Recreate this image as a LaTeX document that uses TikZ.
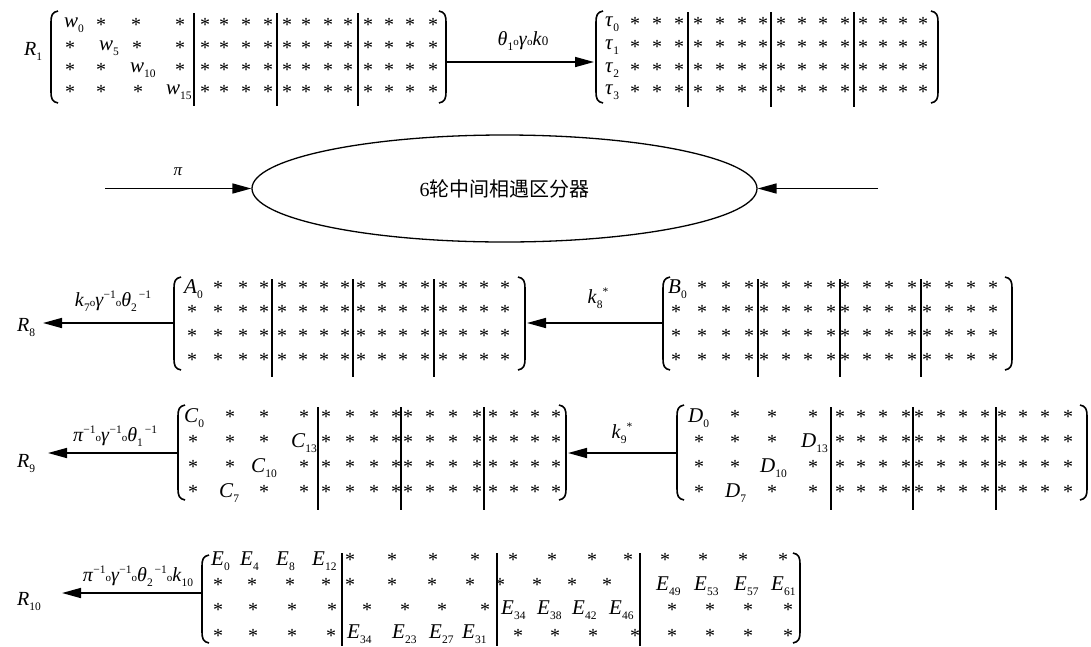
\documentclass[tikz,border=0pt]{standalone}
\usepackage{fontspec}
\setmainfont{Liberation Serif}
\newfontfamily\cjk{Noto Sans CJK SC}
\usetikzlibrary{arrows.meta,shapes.geometric}
\newcommand\sbs[1]{\raisebox{-0.55ex}{\upshape\fontsize{11.5}{11.5}\selectfont #1}}
\newcommand\sps[1]{\raisebox{0.85ex}{\upshape\fontsize{11.5}{11.5}\selectfont #1}}
\newcommand\cmp{{\upshape\fontsize{11}{11}\selectfont o}}
\newcommand\strow[3]{\foreach \xx [count=\ii] in {#3} {\node[st] (#1-\ii) at (\xx,#2) {*};}}
\newcommand\erow[4]{\foreach \xx/\ss [count=\ii] in {#4} {\node[ent] (#1-\ii) at (\xx,#2) {\textit{#3}\sbs{\ss}};}}
\newcommand\lbrk[3]{\draw[brk] (#1+7,#2) .. controls (#1+1,#2+1) and (#1,#2+5) .. (#1,#2+11) -- (#1,#3-11) .. controls (#1,#3-5) and (#1+1,#3-1) .. (#1+7,#3);}
\newcommand\rbrk[3]{\draw[brk] (#1-7,#2) .. controls (#1-1,#2+1) and (#1,#2+5) .. (#1,#2+11) -- (#1,#3-11) .. controls (#1,#3-5) and (#1-1,#3-1) .. (#1-7,#3);}
\newcommand\sepl[3]{\draw[sep] (#1,#2) -- (#1,#3);}
\begin{document}
\begin{tikzpicture}[x=1pt,y=-1pt,
  st/.style={font=\fontsize{20}{20}\selectfont, inner sep=0pt, anchor=base, yshift=-9.8pt},
  ent/.style={font=\fontsize{21}{21}\selectfont, inner sep=0pt, anchor=base west},
  rlab/.style={font=\fontsize{20}{20}\selectfont, inner sep=0pt, anchor=base west},
  lab/.style={font=\fontsize{20}{20}\selectfont, inner sep=0pt},
  brk/.style={line width=1.6pt},
  sep/.style={line width=1.8pt},
  arr/.style={line width=1.6pt, -{Triangle[length=19pt,width=10pt]}},
]
\fill[white] (0,0) rectangle (1091,646);
\useasboundingbox (0,0) rectangle (1091,646);

% ---------- R1 row ----------
\node[rlab] (R1) at (24,55) {\textit{R}\sbs{1}};
\lbrk{51}{11}{103}
\rbrk{446}{11}{103}
\node[ent] (w0) at (64,27) {\textit{w}\sbs{0}};
\node[ent] (w5) at (99,50) {\textit{w}\sbs{5}};
\node[ent] (w10) at (130,72) {\textit{w}\sbs{10}};
\node[ent] (w15) at (166,94) {\textit{w}\sbs{15}};
\strow{ra1}{22}{101,136,180,205,224,246,268,287,306,328,348,368,389,410,433}
\strow{ra2}{45}{70,137,180,205,224,246,268,287,306,328,348,368,389,410,433}
\strow{ra3}{67}{70,101,180,205,224,246,268,287,306,328,348,368,389,410,433}
\strow{ra4}{89}{70,101,138,205,224,246,268,287,306,328,348,368,389,410,433}
\sepl{194}{13}{106}\sepl{277}{13}{106}\sepl{358}{13}{106}

\coordinate (m1e) at (447,62);
\coordinate (m2w) at (594,62);
\draw[arr] (m1e) -- (m2w);
\node[lab] (L1) at (523,41) {\textit{θ}\sbs{1}\cmp\textit{γ}\cmp\textit{k}{\fontsize{13}{13}\selectfont 0}};

\lbrk{596}{11}{103}
\rbrk{938}{11}{103}
\node[ent] (t0) at (605,26) {\textit{τ}\sbs{0}};
\node[ent] (t1) at (605,49) {\textit{τ}\sbs{1}};
\node[ent] (t2) at (605,72) {\textit{τ}\sbs{2}};
\node[ent] (t3) at (605,94) {\textit{τ}\sbs{3}};
\strow{tb1}{21}{635,657,679,698,720,742,763,781,802,823,845,863,883,903,923}
\strow{tb2}{44}{635,657,679,698,720,742,763,781,802,823,845,863,883,903,923}
\strow{tb3}{67}{635,657,679,698,720,742,763,781,802,823,845,863,883,903,923}
\strow{tb4}{89}{635,657,679,698,720,742,763,781,802,823,845,863,883,903,923}
\sepl{688}{12}{107}\sepl{771}{12}{107}\sepl{854}{12}{107}

% ---------- distinguisher ----------
\node[draw, ellipse, line width=1.3pt, minimum width=505pt, minimum height=107pt, inner sep=0pt] (dist) at (504.5,188.5) {\fontsize{20}{20}\selectfont 6{\cjk 轮中间相遇区分器}};
\coordinate (pin) at (105,188.5);
\coordinate (qin) at (878,188.5);
\draw[arr] (pin) -- (dist.west);
\draw[arr] (qin) -- (dist.east);
\node[lab, font=\fontsize{17}{17}\selectfont] (Lpi) at (178,172) {\textit{π}};

% ---------- R8 row ----------
\node[rlab] (R8) at (17,331) {\textit{R}\sbs{8}};
\lbrk{174}{277}{370}
\rbrk{525}{277}{370}
\node[ent] (A0) at (184,293) {\textit{A}\sbs{0}};
\strow{aa1}{285}{218,243,264,282,303,324,345,361,382,403,425,443,463,484,505}
\strow{aa2}{309}{192,218,243,264,282,303,324,345,361,382,403,425,443,463,484,505}
\strow{aa3}{333}{192,218,243,264,282,303,324,345,361,382,403,425,443,463,484,505}
\strow{aa4}{357}{192,218,243,264,282,303,324,345,361,382,403,425,443,463,484,505}
\sepl{272}{279}{377}\sepl{353}{279}{377}\sepl{434}{279}{377}
\coordinate (aw) at (174,323);
\coordinate (t8) at (43,323);
\draw[arr] (aw) -- (t8);
\node[lab] (L8) at (113,301) {\textit{k}\sbs{7}\cmp\textit{γ}\sps{−1}\cmp\textit{θ}\sbs{2}\sps{\,−1}};

\lbrk{663}{277}{370}
\rbrk{1012}{277}{370}
\node[ent] (B0) at (668,293) {\textit{B}\sbs{0}};
\strow{bb1}{285}{702,726,749,764,786,808,831,845,867,889,912,927,949,971,993}
\strow{bb2}{309}{676,702,726,749,764,786,808,831,845,867,889,912,927,949,971,993}
\strow{bb3}{333}{676,702,726,749,764,786,808,831,845,867,889,912,927,949,971,993}
\strow{bb4}{357}{676,702,726,749,764,786,808,831,845,867,889,912,927,949,971,993}
\sepl{758}{279}{377}\sepl{840}{279}{377}\sepl{921}{279}{377}
\coordinate (bw) at (663,323);
\coordinate (ae) at (527,323);
\draw[arr] (bw) -- (ae);
\node[lab] (K8) at (598,298) {\textit{k}\sbs{8}\sps{*}};

% ---------- R9 row ----------
\node[rlab] (R9) at (17,467) {\textit{R}\sbs{9}};
\lbrk{178}{405}{500}
\rbrk{566}{405}{500}
\node[ent] (C0) at (184,422) {\textit{C}\sbs{0}};
\node[ent] (C13) at (291,447) {\textit{C}\sbs{13}};
\node[ent] (C10) at (251,472) {\textit{C}\sbs{10}};
\node[ent] (C7) at (219,497) {\textit{C}\sbs{7}};
\strow{cc1}{414}{230,264,304,326,350,374,396,408,430,453,477,493,514,535,556}
\strow{cc2}{439}{193,230,264,326,350,374,396,408,430,453,477,493,514,535,556}
\strow{cc3}{464}{193,230,304,326,350,374,396,408,430,453,477,493,514,535,556}
\strow{cc4}{489}{193,264,304,326,350,374,396,408,430,453,477,493,514,535,556}
\sepl{318}{407}{510}\sepl{401}{407}{510}\sepl{484}{407}{510}
\coordinate (cw) at (178,453);
\coordinate (t9) at (48,453);
\draw[arr] (cw) -- (t9);
\node[lab] (L9) at (115,436) {\textit{π}\sps{−1}\cmp\textit{γ}\sps{−1}\cmp\textit{θ}\sbs{1}\sps{\,−1}};

\lbrk{677}{405}{500}
\rbrk{1087}{405}{500}
\node[ent] (D0) at (688,422) {\textit{D}\sbs{0}};
\node[ent] (D13) at (801,447) {\textit{D}\sbs{13}};
\node[ent] (D10) at (760,472) {\textit{D}\sbs{10}};
\node[ent] (D7) at (725,497) {\textit{D}\sbs{7}};
\strow{dd1}{414}{735,772,813,840,861,883,906,919,941,963,985,1002,1023,1045,1068}
\strow{dd2}{439}{699,735,772,840,861,883,906,919,941,963,985,1002,1023,1045,1068}
\strow{dd3}{464}{699,735,813,840,861,883,906,919,941,963,985,1002,1023,1045,1068}
\strow{dd4}{489}{699,772,813,840,861,883,906,919,941,963,985,1002,1023,1045,1068}
\sepl{831}{407}{510}\sepl{913}{407}{510}\sepl{996}{407}{510}
\coordinate (dw) at (677,453);
\coordinate (ce) at (568,453);
\draw[arr] (dw) -- (ce);
\node[lab] (K9) at (622,433) {\textit{k}\sbs{9}\sps{*}};

% ---------- R10 row ----------
\node[rlab] (R10) at (17,605) {\textit{R}\sbs{10}};
\lbrk{202}{555}{643}
\rbrk{800}{553}{643}
\erow{e1}{565}{E}{211/0,240/4,276/8,312/12}
\strow{e2a}{582}{218,252,290,326}
\strow{e3a}{607}{218,253,292,332}
\strow{e4a}{633}{218,253,292,331}
\sepl{342}{553}{646}
\strow{e1b}{557}{350,392,433,475}
\strow{e2b}{582}{350,392,432,470}
\strow{e3b}{607}{367,405,442,485}
\erow{e4}{638}{E}{347/34,392/23,429/27,462/31}
\sepl{497}{553}{646}
\strow{e1c}{557}{513,552,592,628}
\strow{e2c}{582}{500,537,572,607}
\erow{e3}{614}{E}{501/34,537/38,572/42,609/46}
\strow{e4c}{633}{518,555,593,635}
\sepl{640}{553}{646}
\strow{e1d}{557}{665,703,743,783}
\erow{e2}{590}{E}{656/49,694/53,734/57,771/61}
\strow{e3d}{607}{672,710,748,788}
\strow{e4d}{633}{672,710,748,788}
\coordinate (ew) at (202,593);
\coordinate (t10) at (62,593);
\draw[arr] (ew) -- (t10);
\node[lab] (L10) at (138,576) {\textit{π}\sps{−1}\cmp\textit{γ}\sps{−1}\cmp\textit{θ}\sbs{2}\sps{\,−1}\cmp\textit{k}\sbs{10}};
\end{tikzpicture}
\end{document}
